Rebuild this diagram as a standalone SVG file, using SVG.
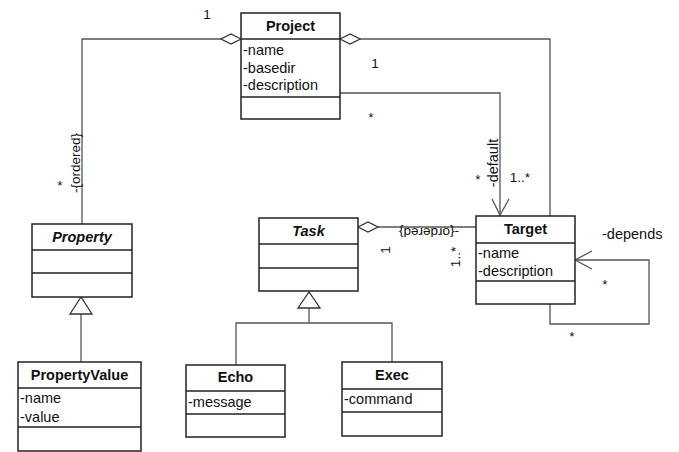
<svg xmlns="http://www.w3.org/2000/svg" width="679" height="452" viewBox="0 0 679 452">
<style>
.box{fill:#fff;stroke:#222;stroke-width:1.5}
.div{stroke:#222;stroke-width:1.5}
.t{font-family:"Liberation Sans",Arial,sans-serif;font-size:14.5px;fill:#111}
.b{font-weight:bold;text-anchor:middle}
.bi{font-weight:bold;font-style:italic;text-anchor:middle}
.l{font-family:"Liberation Sans",Arial,sans-serif;font-size:13.5px;fill:#111}
.c{fill:none;stroke:#555;stroke-width:1.3}
.d{fill:#fff;stroke:#333;stroke-width:1.3}
</style>
<rect width="679" height="452" fill="#fff"/>
<g id="connectors">
<polyline class="c" points="221,39 82,39 82,224"/>
<polyline class="c" points="360,39 550,39 550,216"/>
<polyline class="c" points="340,93 500,93 500,216"/>
<polyline class="c" points="492,199 500,215 509,199"/>
<line class="c" x1="378" y1="227" x2="476" y2="227"/>
<polyline class="c" points="550,304 550,324 649,324 649,260 575,260"/>
<polyline class="c" points="592,251 575,260 592,269"/>
<line class="c" x1="81" y1="314" x2="81" y2="362"/>
<polyline class="c" points="309,308 309,323"/>
<polyline class="c" points="236,365 236,323 392,323 392,362"/>
<polygon class="d" points="241,39 231,34 221,39 231,44"/>
<polygon class="d" points="340,39 350,34 360,39 350,44"/>
<polygon class="d" points="358,227 368,222 378,227 368,232"/>
<polygon class="d" points="81,297 70,314 92,314"/>
<polygon class="d" points="309,292 298,308 320,308"/>
<text class="l" x="207" y="19" text-anchor="middle">1</text>
<text class="l" transform="translate(80,163) rotate(-90)" text-anchor="middle">-{ordered}</text>
<text class="l" x="60" y="190" text-anchor="middle">*</text>
<text class="l" x="375" y="68" text-anchor="middle">1</text>
<text class="l" x="371" y="122" text-anchor="middle">*</text>
<text class="l" x="478" y="184" text-anchor="middle">*</text>
<text class="t" transform="translate(498,163) rotate(-90)" text-anchor="middle">-default</text>
<text class="l" x="520" y="182" text-anchor="middle">1..*</text>
<text class="l" transform="translate(429,228) rotate(180)" text-anchor="middle">-{ordered}</text>
<text class="l" transform="translate(390,250) rotate(-90)" text-anchor="middle">1</text>
<text class="l" transform="translate(460,257) rotate(-90)" text-anchor="middle">1..*</text>
<text class="t" x="602" y="239">-depends</text>
<text class="l" x="605" y="289" text-anchor="middle">*</text>
<text class="l" x="572" y="341" text-anchor="middle">*</text>
</g>
<g id="project">
<rect class="box" x="241" y="13" width="99" height="106"/>
<line class="div" x1="241" y1="39" x2="340" y2="39"/>
<line class="div" x1="241" y1="97" x2="340" y2="97"/>
<text class="t b" x="290.5" y="31">Project</text>
<text class="t" x="243" y="55">-name</text>
<text class="t" x="243" y="73">-basedir</text>
<text class="t" x="243" y="90">-description</text>
</g>
<g id="property">
<rect class="box" x="32" y="224" width="100" height="73"/>
<line class="div" x1="32" y1="250" x2="132" y2="250"/>
<line class="div" x1="32" y1="273" x2="132" y2="273"/>
<text class="t bi" x="82" y="242">Property</text>
</g>
<g id="task">
<rect class="box" x="259" y="218" width="99" height="73"/>
<line class="div" x1="259" y1="244" x2="358" y2="244"/>
<line class="div" x1="259" y1="268" x2="358" y2="268"/>
<text class="t bi" x="308.5" y="236">Task</text>
</g>
<g id="target">
<rect class="box" x="476" y="216" width="99" height="88"/>
<line class="div" x1="476" y1="243" x2="575" y2="243"/>
<line class="div" x1="476" y1="281" x2="575" y2="281"/>
<text class="t b" x="525.5" y="234">Target</text>
<text class="t" x="478" y="258">-name</text>
<text class="t" x="478" y="276">-description</text>
</g>
<g id="propertyvalue">
<rect class="box" x="18" y="362" width="123" height="89"/>
<line class="div" x1="18" y1="388" x2="141" y2="388"/>
<line class="div" x1="18" y1="427" x2="141" y2="427"/>
<text class="t b" x="79.5" y="380">PropertyValue</text>
<text class="t" x="20" y="403">-name</text>
<text class="t" x="20" y="422">-value</text>
</g>
<g id="echo">
<rect class="box" x="186" y="365" width="99" height="72"/>
<line class="div" x1="186" y1="391" x2="285" y2="391"/>
<line class="div" x1="186" y1="414" x2="285" y2="414"/>
<text class="t b" x="235.5" y="382">Echo</text>
<text class="t" x="188" y="407">-message</text>
</g>
<g id="exec">
<rect class="box" x="342" y="362" width="100" height="74"/>
<line class="div" x1="342" y1="389" x2="442" y2="389"/>
<line class="div" x1="342" y1="412" x2="442" y2="412"/>
<text class="t b" x="392" y="380">Exec</text>
<text class="t" x="344" y="404">-command</text>
</g>
</svg>
